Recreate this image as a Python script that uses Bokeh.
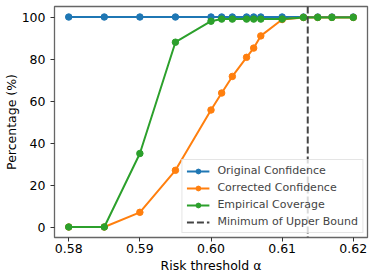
from bokeh.plotting import figure
from bokeh.models import Range1d, FixedTicker, Legend, LegendItem, LinearAxis
from bokeh.embed import file_html
from bokeh.resources import INLINE

# ---- data ----
alpha = [0.58, 0.585, 0.59, 0.595, 0.600, 0.6015, 0.603, 0.605, 0.606, 0.607,
         0.610, 0.613, 0.615, 0.617, 0.620]
original_conf = [100, 100, 100, 100, 100, 100, 100, 100, 100, 100,
                 100, 100, 100, 100, 100]
corrected_conf = [0, 0, 7, 27, 55.7, 63.8, 71.7, 80.8, 85.2, 91.0,
                  98.8, 99.8, 99.8, 99.8, 99.8]
empirical_cov = [0, 0, 35, 88, 98, 99, 99, 99, 99, 99,
                 99, 99.8, 99.8, 99.8, 99.8]
upper_bound_min = 0.6136

x_ticks = [0.58, 0.59, 0.60, 0.61, 0.62]
x_tick_labels = ["0.58", "0.59", "0.60", "0.61", "0.62"]
y_ticks = [0, 20, 40, 60, 80, 100]
y_tick_labels = ["0", "20", "40", "60", "80", "100"]

series_names = ["Original Confidence", "Corrected Confidence", "Empirical Coverage"]
series_colors = ["#1f77b4", "#ff7f0e", "#2ca02c"]
bound_name = "Minimum of Upper Bound"
x_label = "Risk threshold α"
y_label = "Percentage (%)"

x_lo, x_hi = 0.578, 0.622
y_lo, y_hi = -5, 105

FONT = "DejaVu Sans"

p = figure(width=374, height=277, output_backend="svg", toolbar_location=None,
           x_range=Range1d(x_lo, x_hi), y_range=Range1d(y_lo, y_hi),
           min_border_left=52, min_border_right=7, min_border_top=6,
           min_border_bottom=40)

p.background_fill_color = "white"
p.border_fill_color = "white"
p.xgrid.visible = False
p.ygrid.visible = False
p.outline_line_color = "#666666"
p.outline_line_width = 1.3

renderers = []
for ys, name, col in zip([original_conf, corrected_conf, empirical_cov], series_names, series_colors):
    l = p.line(alpha, ys, line_color=col, line_width=2)
    s = p.scatter(alpha, ys, marker="circle", size=6.5, fill_color=col, line_color=col)
    renderers.append((name, [l, s]))

bound = p.line([upper_bound_min, upper_bound_min], [y_hi, y_lo],
               line_color="#444444", line_width=2, line_dash="7 3")
renderers.append((bound_name, [bound]))

legend = Legend(items=[LegendItem(label=n, renderers=r) for n, r in renderers],
                location="bottom_right", margin=4, padding=4, spacing=4,
                label_height=12, glyph_height=12, glyph_width=23, label_standoff=8,
                label_text_font=FONT, label_text_font_size="11px",
                border_line_color="#cccccc", border_line_width=1,
                background_fill_alpha=0.8)
p.add_layout(legend)


def style_axis(ax):
    ax.axis_line_color = None
    ax.major_tick_line_color = "#333333"
    ax.major_tick_out = 4
    ax.major_tick_in = 0
    ax.minor_tick_line_color = None
    ax.major_label_text_font = FONT
    ax.major_label_text_font_size = "12.5px"
    ax.major_label_text_color = "black"


style_axis(p.xaxis[0])
style_axis(p.yaxis[0])
p.xaxis[0].major_label_standoff = 2
p.yaxis[0].major_label_standoff = 5
p.xaxis[0].ticker = FixedTicker(ticks=x_ticks)
p.xaxis[0].major_label_overrides = {t: l for t, l in zip(x_ticks, x_tick_labels)}
p.yaxis[0].ticker = FixedTicker(ticks=y_ticks)
p.yaxis[0].major_label_overrides = {t: l for t, l in zip(y_ticks, y_tick_labels)}

# axis titles drawn as single-label axes (tighter layout)
x_mid = (x_lo + x_hi) / 2
y_mid = (y_lo + y_hi) / 2
xt = LinearAxis(ticker=FixedTicker(ticks=[x_mid]),
                major_label_overrides={x_mid: x_label})
style_axis(xt)
xt.major_tick_line_color = None
xt.major_tick_out = 0
xt.major_label_standoff = 2
p.add_layout(xt, "below")

yt = LinearAxis(ticker=FixedTicker(ticks=[y_mid]),
                major_label_overrides={y_mid: y_label},
                major_label_orientation="vertical")
style_axis(yt)
yt.major_tick_line_color = None
yt.major_tick_out = 0
yt.major_label_standoff = 0
p.add_layout(yt, "left")

open("out.html", "w").write(file_html(p, INLINE))
